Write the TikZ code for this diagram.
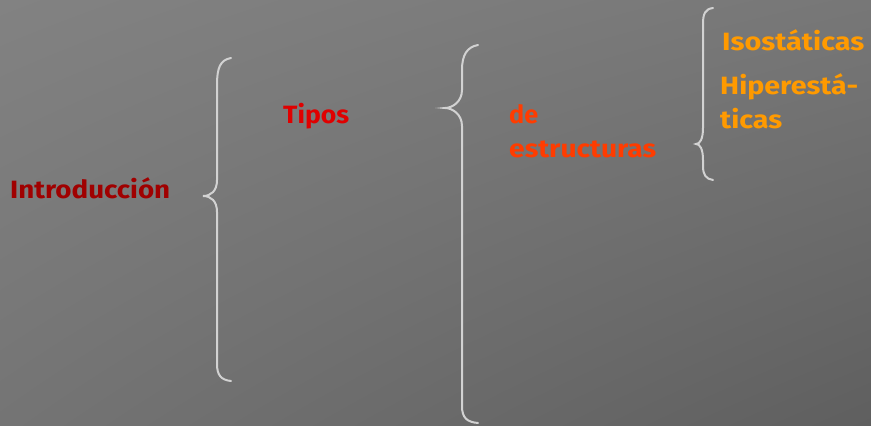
\documentclass[tikz,border=0pt]{standalone}
\usepackage{fontspec}
\setmainfont{Fira Sans}
\usetikzlibrary{shadings}
\definecolor{bgA}{HTML}{828282}
\definecolor{bgB}{HTML}{777777}
\definecolor{bgC}{HTML}{747474}
\definecolor{bgD}{HTML}{5F5F5F}
\definecolor{bracecol}{HTML}{D2D2D2}
\definecolor{cIntro}{HTML}{A00000}
\definecolor{cTipos}{HTML}{E00000}
\definecolor{cEstr}{HTML}{FF3C00}
\definecolor{cIso}{HTML}{FF9A00}
\tikzset{
  lbl/.style={anchor=base west, inner sep=0pt, font=\fontsize{25}{28}\selectfont\bfseries},
  bracepath/.style={draw=bracecol, line width=2pt, line cap=round}
}
\newcommand{\fitw}[2]{\resizebox{#1pt}{\height}{#2}}
\begin{document}
\begin{tikzpicture}[x=1pt,y=-1pt]
\useasboundingbox (0,0) rectangle (871,426);
\shade[upper left=bgA, upper right=bgB, lower left=bgC, lower right=bgD] (0,0) rectangle (871,426);
% braces
\draw[bracepath] (231,58) .. controls (220,60) and (217,68) .. (217,85) -- (217,180) .. controls (217,191) and (211,196) .. (203,196) .. controls (211,196) and (217,201) .. (217,212) -- (217,364) .. controls (217,375) and (221,380) .. (231,381);
\draw[bracepath] (478,45) .. controls (467,47) and (462,55) .. (462,70) -- (462,90) .. controls (462,102) and (452,108) .. (445,108) .. controls (452,108) and (462,114) .. (462,126) -- (462,406) .. controls (462,418) and (467,422) .. (478,423);
\draw[bracepath] (713,8) .. controls (705,9) and (703,14) .. (703,24) -- (703,128) .. controls (703,139) and (700,144) .. (696,144) .. controls (700,144) and (703,149) .. (703,160) -- (703,166) .. controls (703,175) and (706,179) .. (713,180);
% labels
\node[lbl, text=cIntro] (intro) at (10,198) {\fitw{160}{Introducción}};
\node[lbl, text=cTipos] (tipos) at (283,123) {\fitw{66}{Tipos}};
\node[lbl, text=cEstr] (de) at (509,123) {\fitw{29}{de}};
\node[lbl, text=cEstr] (estr) at (509,157) {\fitw{147}{estructuras}};
\node[lbl, text=cIso] (iso) at (722,50) {\fitw{142}{Isostáticas}};
\node[lbl, text=cIso] (hip1) at (720,94) {\fitw{138}{Hiperestá-}};
\node[lbl, text=cIso] (hip2) at (720,128) {\fitw{62}{ticas}};
\end{tikzpicture}
\end{document}
